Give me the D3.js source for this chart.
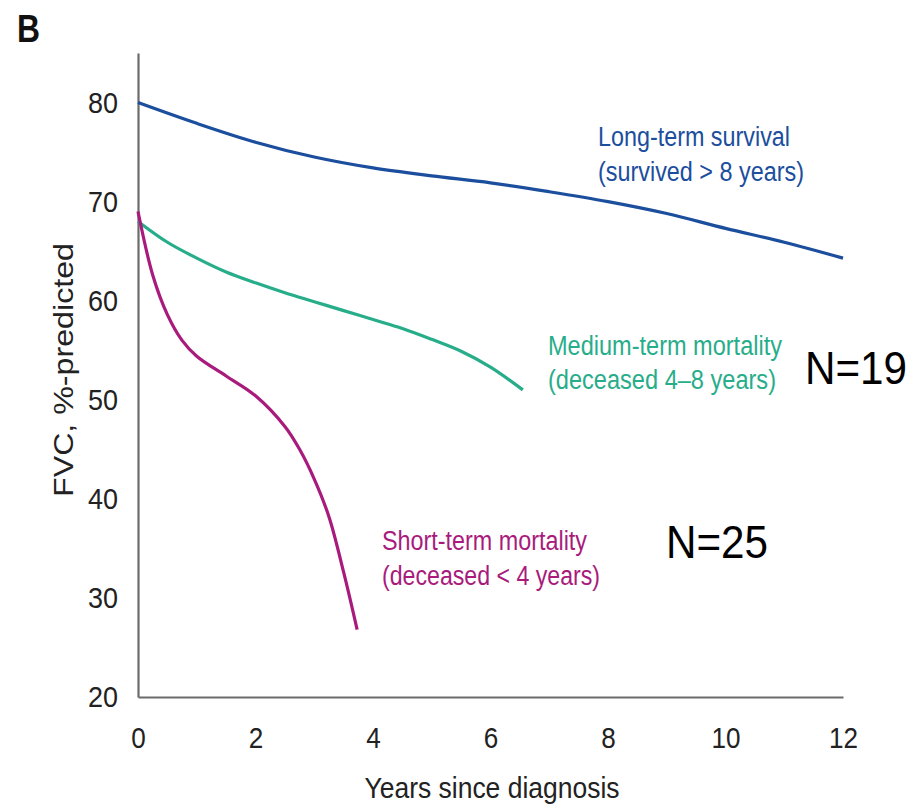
<!DOCTYPE html>
<html>
<head>
<meta charset="utf-8">
<script src="https://cdn.jsdelivr.net/npm/d3@7"></script>
<style>
  html, body { margin: 0; padding: 0; background: #fff; }
  svg { display: block; }
  text { font-family: "Liberation Sans", Arial, sans-serif; }
</style>
</head>
<body>
<svg id="chart" width="923" height="808"></svg>
<script>
// ---- data ----
const xTicks = [0, 2, 4, 6, 8, 10, 12];
const yTicks = [20, 30, 40, 50, 60, 70, 80];

const longYears   = [0, 1, 2, 3, 4, 5, 6, 7, 8, 9, 10, 11, 12];
const longValues  = [80, 77.9, 76.0, 74.5, 73.4, 72.6, 71.9, 71.0, 70.0, 68.8, 67.3, 65.9, 64.3];

const medYears    = [0, 0.5, 1, 1.5, 2, 2.5, 3, 3.5, 4, 4.5, 5, 5.5, 6, 6.55];
const medValues   = [68, 65.9, 64.3, 62.9, 61.8, 60.8, 59.9, 59.0, 58.1, 57.2, 56.1, 54.9, 53.3, 51.0];

const shortYears  = [0, 0.25, 0.5, 0.75, 1, 1.5, 2, 2.5, 2.75, 3, 3.25, 3.5, 3.73];
const shortValues = [69, 62.6, 58.6, 56.0, 54.4, 52.4, 50.4, 47.3, 45.0, 42.0, 38.2, 32.6, 26.8];

const seriesNames = ["Long-term survival", "Medium-term mortality", "Short-term mortality"];
const seriesSub   = ["(survived > 8 years)", "(deceased 4\u20138 years)", "(deceased < 4 years)"];
const nLabels     = ["N=19", "N=25"];

const xTitle = "Years since diagnosis";
const yTitle = "FVC, %-predicted";
const panel = "B";

// ---- drawing ----
const svg = d3.select("#chart");
const x = d3.scaleLinear().domain([0, 12]).range([138, 843]);
const y = d3.scaleLinear().domain([20, 85]).range([697, 53]);

const colors = ["#1b4e9d", "#27ad8a", "#a81b7c"];

// axes
const xAxis = svg.append("g").attr("transform", `translate(0,${y(20)})`)
  .call(d3.axisBottom(x).tickValues(xTicks).tickSize(0).tickPadding(30).tickFormat(d3.format("d")));
const yAxis = svg.append("g").attr("transform", `translate(${x(0)},0)`)
  .call(d3.axisLeft(y).tickValues(yTicks).tickSize(0).tickPadding(20).tickFormat(d3.format("d")));
[xAxis, yAxis].forEach(g => {
  g.select(".domain").attr("stroke", "#6b6b6b").attr("stroke-width", 2.2);
  g.selectAll(".tick text").attr("font-size", 30).attr("fill", "#222")
    .attr("font-family", "'Liberation Sans', Arial, sans-serif")
    .attr("transform", function() {
      return null;
    });
});
// slightly condense tick digits like the reference
xAxis.selectAll(".tick text").each(function() {
  const t = d3.select(this);
  const n = t.text().length;
  t.attr("textLength", n * 14.5).attr("lengthAdjust", "spacingAndGlyphs");
});
yAxis.selectAll(".tick text").each(function() {
  const t = d3.select(this);
  const n = t.text().length;
  t.attr("textLength", n * 15).attr("lengthAdjust", "spacingAndGlyphs");
});

// lines
const line = d3.line().x(d => x(d[0])).y(d => y(d[1])).curve(d3.curveCatmullRom.alpha(0.5));
const series = [
  d3.zip(longYears, longValues),
  d3.zip(medYears, medValues),
  d3.zip(shortYears, shortValues)
];
series.forEach((s, i) => {
  svg.append("path").datum(s).attr("d", line)
    .attr("fill", "none").attr("stroke", colors[i]).attr("stroke-width", 3.2)
    .attr("stroke-linecap", "butt");
});

// series labels
const labelPos = [[598, 146, 181], [548, 355, 389], [382, 550, 585]];
const labelLen = [[192, 206], [234, 228], [205, 218]];
seriesNames.forEach((name, i) => {
  const [lx, ly1, ly2] = labelPos[i];
  svg.append("text").attr("x", lx).attr("y", ly1).attr("font-size", 27)
    .attr("fill", colors[i]).attr("textLength", labelLen[i][0])
    .attr("lengthAdjust", "spacingAndGlyphs").text(name);
  svg.append("text").attr("x", lx).attr("y", ly2).attr("font-size", 27)
    .attr("fill", colors[i]).attr("textLength", labelLen[i][1])
    .attr("lengthAdjust", "spacingAndGlyphs").text(seriesSub[i]);
});

// N labels
const nPos = [[805, 384], [666, 558]];
nLabels.forEach((t, i) => {
  svg.append("text").attr("x", nPos[i][0]).attr("y", nPos[i][1])
    .attr("font-family", "'Noto Sans', 'DejaVu Sans', sans-serif")
    .attr("font-size", 47).attr("fill", "#000")
    .attr("textLength", 102).attr("lengthAdjust", "spacingAndGlyphs")
    .text(t);
});

// axis titles
svg.append("text").attr("x", 492).attr("y", 798).attr("text-anchor", "middle")
  .attr("font-size", 29).attr("fill", "#222")
  .attr("textLength", 255).attr("lengthAdjust", "spacingAndGlyphs").text(xTitle);
svg.append("text").attr("transform", "translate(73,370) rotate(-90)")
  .attr("text-anchor", "middle").attr("font-size", 28).attr("fill", "#222")
  .attr("textLength", 254).attr("lengthAdjust", "spacingAndGlyphs")
  .text(yTitle);

// panel letter
svg.append("text").attr("x", 17).attr("y", 42).attr("font-size", 38)
  .attr("font-weight", "bold").attr("fill", "#111")
  .attr("textLength", 23).attr("lengthAdjust", "spacingAndGlyphs").text(panel);
</script>
</body>
</html>
